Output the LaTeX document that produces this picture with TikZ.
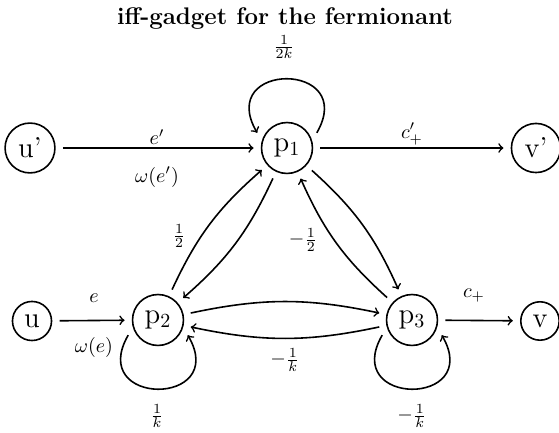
\documentclass[tikz,border=0pt]{standalone}
\usetikzlibrary{arrows}
\begin{document}
\begin{tikzpicture}[x=0.5pt,y=0.5pt,
  vtx/.style={circle,draw,thick,font=\Large,inner sep=3.33pt,outer sep=4pt},
  conn/.style={->,thick,>=to},
  lbl/.style={inner sep=0pt}]
\useasboundingbox (0,0) rectangle (559,433);
\node[font=\large\bfseries] (title) at (285,414) {iff-gadget for the fermionant};
\node[vtx] (u1) at (30,285) {u'};
\node[vtx] (p1) at (287,285) {p$_1$};
\node[vtx] (v1) at (536,285) {v'};
\node[vtx] (u)  at (32,112) {u};
\node[vtx] (p2) at (158,113) {p$_2$};
\node[vtx] (p3) at (412,113) {p$_3$};
\node[vtx] (v)  at (540,112) {v};
% straight connectors
\draw[conn] (u1) -- (p1);
\draw[conn] (p1) -- (v1);
\draw[conn] (u) -- (p2);
\draw[conn] (p3) -- (v);
% triangle connectors
\draw[conn] (p2) to[bend left=12] (p1);
\draw[conn] (p1) to[bend left=12] (p2);
\draw[conn] (p1) to[bend left=12] (p3);
\draw[conn] (p3) to[bend left=12] (p1);
\draw[conn] (p2) to[bend left=12] (p3);
\draw[conn] (p3) to[bend left=12] (p2);
% loops
\draw[conn] (p1.27) .. controls +(60:83) and +(120:83) .. (p1.153);
\draw[conn] (p2.207) .. controls +(-120:83) and +(-60:83) .. (p2.-27);
\draw[conn] (p3.207) .. controls +(-120:83) and +(-60:83) .. (p3.-27);
% labels
\node[lbl] (l1) at (284,386) {$\frac{1}{2k}$};
\node[lbl] (l2) at (157,296) {$e'$};
\node[lbl] (l3) at (157,256) {$\omega(e')$};
\node[lbl] (l4) at (412,299) {$c'_+$};
\node[lbl] (l5) at (179,197) {$\frac{1}{2}$};
\node[lbl] (l6) at (303,193) {$-\frac{1}{2}$};
\node[lbl] (l7) at (94,135) {$e$};
\node[lbl] (l8) at (94,85) {$\omega(e)$};
\node[lbl] (l9) at (474,137) {$c_+$};
\node[lbl] (l10) at (285,73) {$-\frac{1}{k}$};
\node[lbl] (l11) at (157,17) {$\frac{1}{k}$};
\node[lbl] (l12) at (412,17) {$-\frac{1}{k}$};
\end{tikzpicture}
\end{document}
